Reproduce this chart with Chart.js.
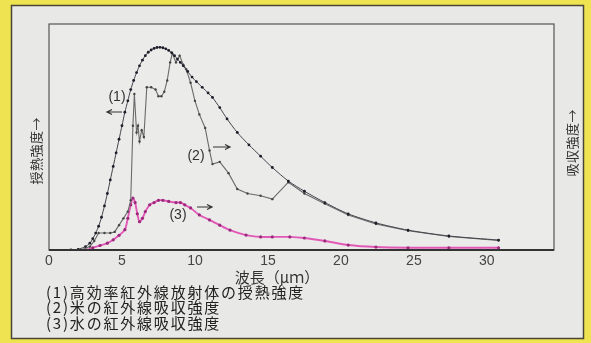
<!DOCTYPE html>
<html>
<head>
<meta charset="utf-8">
<script src="https://cdn.jsdelivr.net/npm/chart.js@4.4.1/dist/chart.umd.min.js"></script>
<style>
  html, body { margin:0; padding:0; background:#efe352; }
  #wrap { width:591px; height:343px; position:relative; }
</style>
</head>
<body>
<div id="wrap"><canvas id="chart"></canvas></div>
<script>
// ---------- Data ----------
// (1) emitter heat intensity
const wave1 = [1.5,2.0,2.5,2.8,3.0,3.2,3.4,3.6,3.8,4.0,4.2,4.4,4.6,4.8,5.0,5.2,5.4,5.6,5.8,6.0,6.2,6.4,6.6,6.8,7.0,7.2,7.4,7.6,7.8,8.0,8.2,8.4,8.6,8.8,9.0,9.2,9.5,9.8,10.1,10.5,10.9,11.2,11.7,12.2,12.9,13.7,14.5,15.3,16.4,17.5,18.9,20.5,22.4,24.6,27.4,30.8];
const heat1 = [0,0.3,1.5,3,5,7.5,10.5,14.5,19.5,25,31,37,43,49,55,61,66,71,75,78.5,81.5,84,86,87.5,88.5,89.2,89.6,89.7,89.5,89,88.3,87.3,86,84.5,83,81.5,79,76.5,74.5,72,69.5,67.5,63,58,52,46.5,41.5,36.5,30.5,26,21,16,12,8.8,6.2,4.4];

// (2) rice IR absorption
const wave2 = [2.2,2.8,3.1,3.4,3.8,4.2,4.5,4.8,5.1,5.4,5.6,5.75,5.85,6.0,6.1,6.2,6.35,6.5,6.7,7.0,7.3,7.5,7.7,7.9,8.1,8.3,8.45,8.7,8.95,9.2,9.4,9.7,10.0,10.3,10.7,11.0,11.2,11.7,12.3,12.9,13.6,14.5,15.3,16.4,17.5,18.9,20.5,22.4,24.6,27.4,30.8];
const rice2 = [0,1.5,4,7.5,7.5,7.5,8,11,14,17,22,55,69,52,55,48,53,50,72,72,71,68,68,70,75,83,87,83,86,82,80,74,66,60,54,44,38,39,34,27,25,24,22.5,30,25,20.5,15.5,11.5,8.5,6,4.2];

// (3) water IR absorption
const wave3 = [2.6,3.0,3.5,4.0,4.4,4.8,5.2,5.4,5.6,5.75,5.9,6.05,6.2,6.4,6.6,6.9,7.2,7.5,7.8,8.2,8.7,9.0,9.3,9.7,10.3,11.0,11.7,12.4,13.5,14.5,15.3,16.5,17.5,18.9,20.5,22.4,24.6,27.4,30.8];
const water3 = [0,1,2,3,4.5,6.5,9,14,20,23,21,16,12.5,14,17,20,21,22,22,21.5,21,21,20,18.6,15.5,13.3,11,8.8,6.6,5.8,5.8,5.8,5.3,4,2.2,1.3,1,1,1];

const xTicks = [0,5,10,15,20,25,30];
const legendLines = ['(1)高効率紅外線放射体の授熱強度', '(2)米の紅外線吸収強度', '(3)水の紅外線吸収強度'];
const xTitle = '波長（μｍ）';
const yLeftTitle = '授熱強度→';
const yRightTitle = '吸収強度→';

const pts = (xs, ys) => xs.map((x, i) => ({ x, y: ys[i] }));

const JP = '"Noto Sans CJK JP", sans-serif';

// text with a little extra room between glyphs
function spacedText(ctx, text, x, y, gap) {
  for (const ch of text) {
    ctx.fillText(ch, x, y);
    x += ctx.measureText(ch).width + gap;
  }
  return x;
}
function spacedWidth(ctx, text, gap) {
  let w = 0;
  for (const ch of text) w += ctx.measureText(ch).width + gap;
  return w - gap;
}

function arrow(ctx, x1, x2, y) {
  const d = x2 > x1 ? 1 : -1;
  ctx.beginPath();
  ctx.moveTo(x1, y); ctx.lineTo(x2, y);
  ctx.moveTo(x2 - d * 5, y - 2.5); ctx.lineTo(x2, y); ctx.lineTo(x2 - d * 5, y + 2.5);
  ctx.stroke();
}

// ---------- Frame / text drawing ----------
const framePlugin = {
  id: 'frame',
  beforeDraw(chart) {
    const { ctx, chartArea: a } = chart;
    ctx.save();
    ctx.fillStyle = '#efe352';
    ctx.fillRect(0, 0, chart.width, chart.height);
    ctx.fillStyle = '#e8e8e7';
    ctx.fillRect(11, 5, 573, 334);
    ctx.strokeStyle = '#4a4536';
    ctx.lineWidth = 1.5;
    ctx.strokeRect(11.5, 5.5, 572, 333);
    ctx.fillStyle = '#ebebea';
    ctx.fillRect(a.left, a.top, a.right - a.left, a.bottom - a.top);
    ctx.restore();
  },
  afterDatasetsDraw(chart) {
    const { ctx, chartArea: a } = chart;
    ctx.save();
    // plot box
    ctx.strokeStyle = '#555';
    ctx.lineWidth = 1.2;
    ctx.strokeRect(a.left, a.top, a.right - a.left, a.bottom - a.top);
    ctx.strokeStyle = '#333';
    ctx.lineWidth = 1.8;
    ctx.beginPath(); ctx.moveTo(a.left, a.bottom); ctx.lineTo(a.right, a.bottom); ctx.stroke();

    ctx.fillStyle = '#333';
    ctx.textBaseline = 'middle';

    // curve tags
    ctx.font = '14px "Liberation Sans", sans-serif';
    ctx.textAlign = 'center';
    ctx.fillText('(1)', 117, 97);
    ctx.fillText('(2)', 196, 156);
    ctx.fillText('(3)', 178, 215);
    ctx.strokeStyle = '#333';
    ctx.lineWidth = 1.2;
    arrow(ctx, 122, 107, 112);
    arrow(ctx, 213, 230, 147);
    arrow(ctx, 197, 212, 207);

    // x title
    ctx.font = '15px ' + JP;
    ctx.textAlign = 'left';
    const tw = spacedWidth(ctx, xTitle, 0);
    spacedText(ctx, xTitle, 277 - tw / 2, 277, 0);

    // legend lines
    ctx.font = '15px ' + JP;
    ctx.fillStyle = '#222';
    legendLines.forEach((t, i) => spacedText(ctx, t, 46, 292 + i * 15.5, 1.8));

    // vertical titles
    ctx.fillStyle = '#333';
    ctx.font = '13px ' + JP;
    [[yLeftTitle, 36, 151], [yRightTitle, 572, 143]].forEach(([t, x, y]) => {
      ctx.save();
      ctx.translate(x, y);
      ctx.rotate(-Math.PI / 2);
      const w = spacedWidth(ctx, t, 0.5);
      spacedText(ctx, t, -w / 2, 0, 0.5);
      ctx.restore();
    });
    ctx.restore();
  }
};

// ---------- Chart ----------
new Chart(document.getElementById('chart'), {
  type: 'scatter',
  data: {
    datasets: [
      { label:'(1)', data: pts(wave1, heat1), showLine:true, borderColor:'#44444c', borderWidth:1,
        pointRadius:1.4, pointBackgroundColor:'#1e1e2a', pointBorderWidth:0, tension:0.25 },
      { label:'(2)', data: pts(wave2, rice2), showLine:true, borderColor:'#6a6a6a', borderWidth:1.1,
        pointRadius:1.2, pointBackgroundColor:'#444', pointBorderWidth:0, tension:0 },
      { label:'(3)', data: pts(wave3, water3), showLine:true, borderColor:'#e258b6', borderWidth:1.9,
        pointRadius:1.6, pointBackgroundColor:'#9b2a7c', pointBorderWidth:0, tension:0.25 },
    ]
  },
  options: {
    responsive:true,
    maintainAspectRatio:false,
    animation:false,
    devicePixelRatio:1,
    layout: { padding: { left:49, right:37, top:24, bottom:0 } },
    plugins: { legend:{ display:false }, tooltip:{ enabled:false } },
    scales: {
      x: {
        type:'linear', min:0, max:34.6,
        grid:{ display:false, drawTicks:false }, border:{ display:false },
        afterBuildTicks: s => { s.ticks = xTicks.map(v => ({ value:v })); },
        afterFit: s => { s.height = 93; },
        ticks: { color:'#444', padding:3, maxRotation:0, autoSkip:false,
                 font:{ family:'"Liberation Sans", sans-serif', size:14 } }
      },
      y: { min:0, max:100, display:false }
    }
  },
  plugins: [framePlugin]
});
</script>
</body>
</html>
